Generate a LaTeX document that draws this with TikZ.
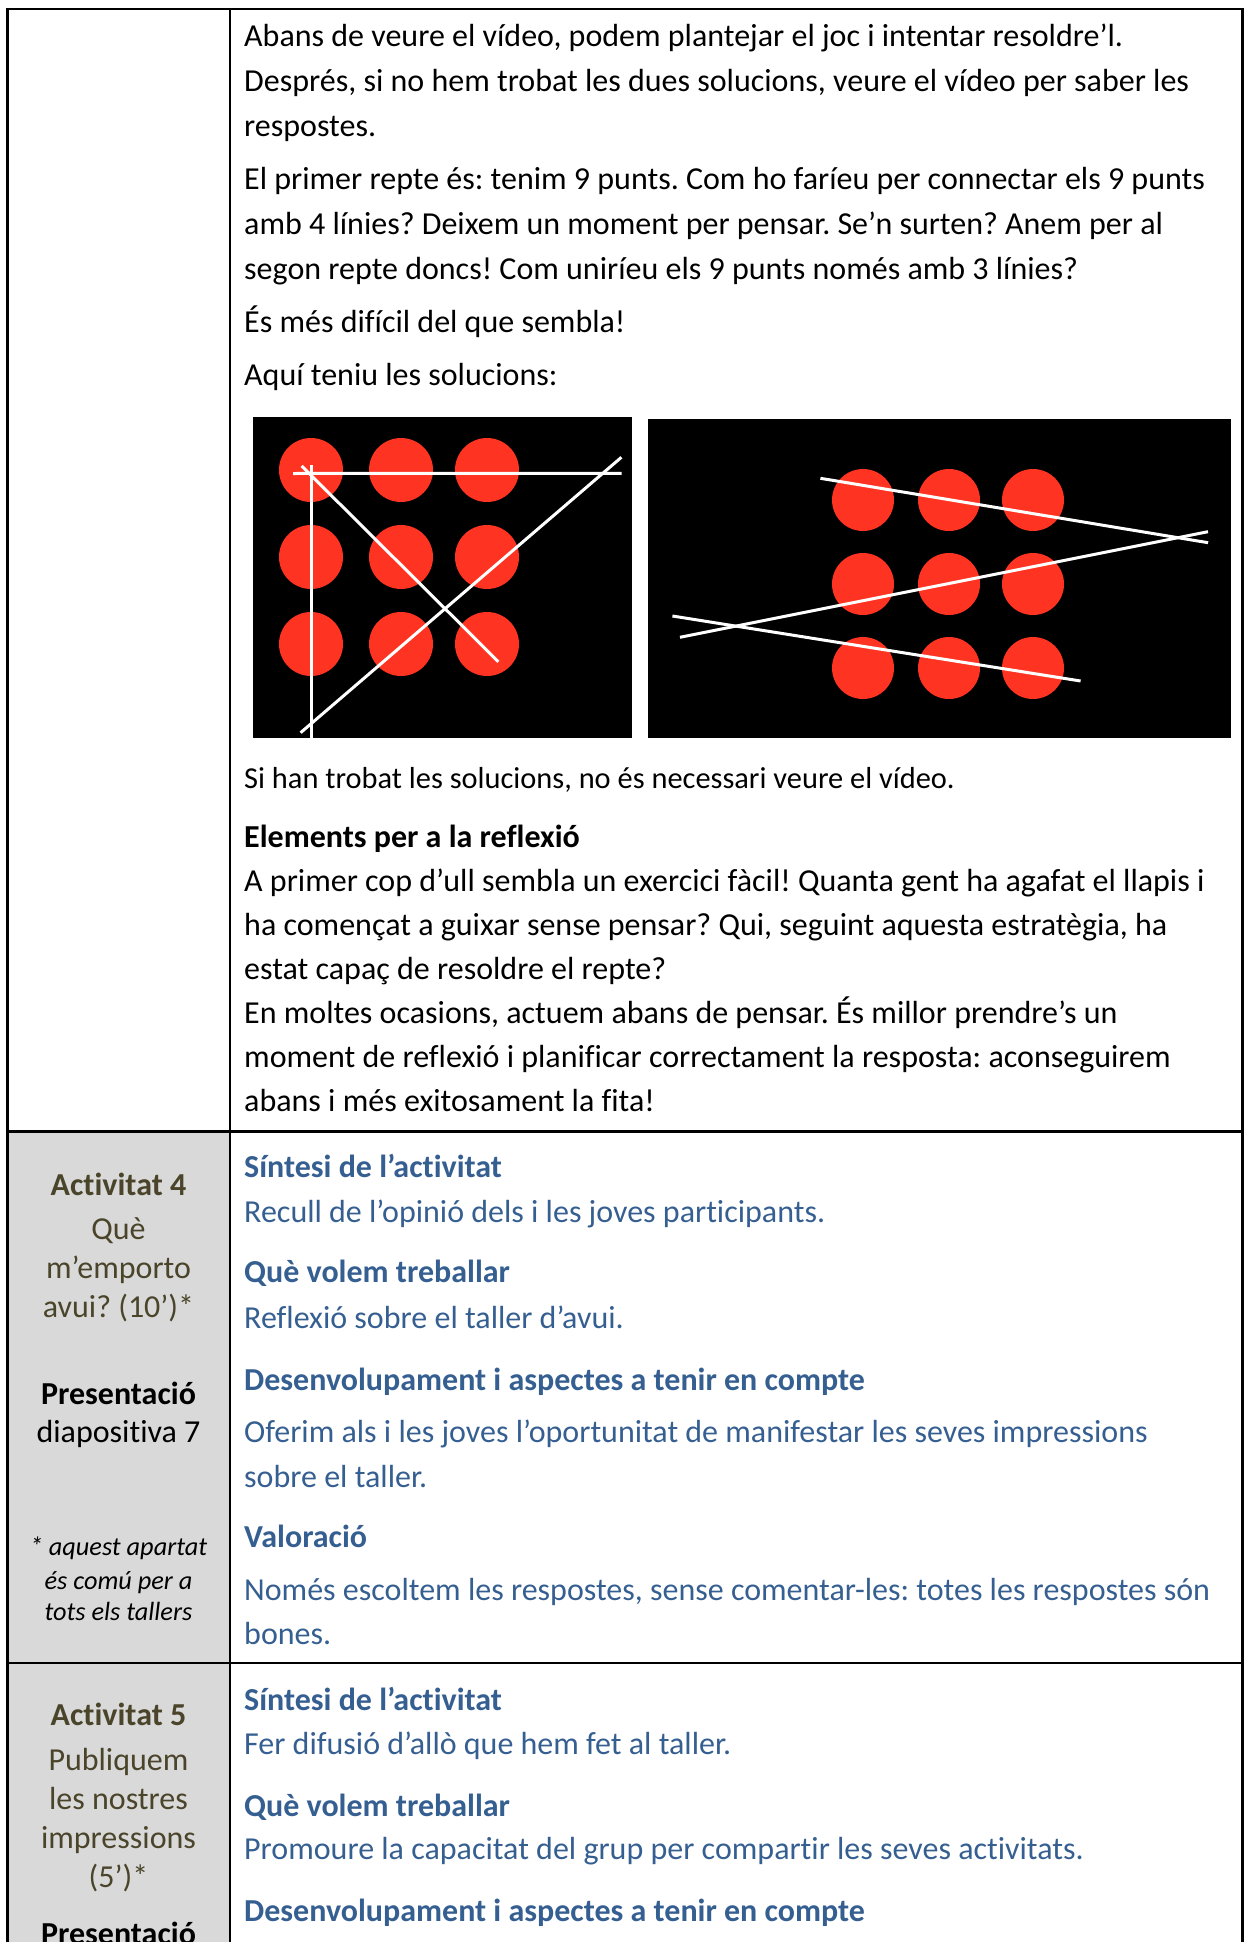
\documentclass[tikz,border=0pt]{standalone}
\usepackage{fontspec}
\setmainfont{Carlito}[Ligatures=NoCommon]
\frenchspacing
\definecolor{blu}{HTML}{365F91}
\definecolor{oli}{HTML}{4A452A}
\definecolor{cellgray}{HTML}{D9D9D9}
\definecolor{dotred}{HTML}{FF3322}
\begin{document}
\begin{tikzpicture}[x=1pt,y=-1pt,
  body/.style={anchor=base west, inner sep=0pt, font=\fontsize{32}{45}\selectfont},
  smallbody/.style={anchor=base west, inner sep=0pt, font=\fontsize{30.4}{36}\selectfont},
  head/.style={body, font=\fontsize{32}{45}\selectfont\bfseries},
  bluebody/.style={body, text=blu},
  bluehead/.style={head, text=blu},
  leftc/.style={anchor=base, inner sep=0pt, font=\fontsize{32}{39}\selectfont, text=oli},
  lefth/.style={leftc, font=\fontsize{32}{39}\selectfont\bfseries},
  leftk/.style={anchor=base, inner sep=0pt, font=\fontsize{32}{39}\selectfont, text=black},
  leftkb/.style={leftk, font=\fontsize{32}{39}\selectfont\bfseries},
  note/.style={anchor=base, inner sep=0pt, font=\fontsize{26.3}{33}\selectfont\itshape, text=black},
  border/.style={line width=2.4pt, black, line cap=rect},
  thin/.style={line width=1.5pt, black},
  chalk/.style={white, line width=3pt}
]
\useasboundingbox (0,0) rectangle (1247,1942);
\clip (0,0) rectangle (1247,1942);
% gray left cells
\fill[cellgray] (8,1132) rectangle (230,1942);
% pictures
\fill[black] (252.7,417) rectangle (631.5,738);
\fill[black] (648,419) rectangle (1230.5,738);
\foreach \x in {311,401,487} \foreach \y in {470,557,644} \fill[dotred] (\x,\y) circle[radius=32pt];
\foreach \x in {863,949,1033} \foreach \y in {500,584,668} \fill[dotred] (\x,\y) circle[radius=31pt];
\coordinate (a1) at (293,473.5); \coordinate (a2) at (621.5,473.3);
\coordinate (b1) at (311,465); \coordinate (b2) at (311,738);
\coordinate (c1) at (301.7,466); \coordinate (c2) at (498.3,661.7);
\coordinate (d1) at (621.4,457.3); \coordinate (d2) at (300.6,732.7);
\draw[chalk] (a1) -- (a2);
\draw[chalk] (b1) -- (b2);
\draw[chalk] (c1) -- (c2);
\draw[chalk] (d1) -- (d2);
\coordinate (e1) at (820.4,478.3); \coordinate (e2) at (1208.1,542.7);
\coordinate (f1) at (680,637.3); \coordinate (f2) at (1208,531.7);
\coordinate (g1) at (672.4,616); \coordinate (g2) at (1080.6,681);
\draw[chalk] (e1) -- (e2);
\draw[chalk] (f1) -- (f2);
\draw[chalk] (g1) -- (g2);
% table rules
\draw[border] (7.3,9.3) -- (1242.5,9.3);
\draw[border] (7.3,9.3) -- (7.3,1942);
\draw[border] (1242.5,9.3) -- (1242.5,1942);
\draw[thin] (230,9.3) -- (230,1942);
\draw[border] (7.3,1131.5) -- (1242.5,1131.5);
\draw[border] (7.3,1663) -- (1242.5,1663);
% row 1
\node[body] (r1a) at (244,47) {Abans de veure el vídeo, podem plantejar el joc i intentar resoldre’l.};
\node[body] (r1b) at (244,92) {Després, si no hem trobat les dues solucions, veure el vídeo per saber les};
\node[body] (r1c) at (244,137) {respostes.};
\node[body] (r1d) at (244,190) {El primer repte és: tenim 9 punts. Com ho faríeu per connectar els 9 punts};
\node[body] (r1e) at (244,235) {amb 4 línies? Deixem un moment per pensar. Se’n surten? Anem per al};
\node[body] (r1f) at (244,280) {segon repte doncs! Com uniríeu els 9 punts només amb 3 línies?};
\node[body] (r1g) at (244,332) {És més difícil del que sembla!};
\node[body] (r1h) at (244,385) {Aquí teniu les solucions:};
\node[smallbody] (r1i) at (244,788) {Si han trobat les solucions, no és necessari veure el vídeo.};
\node[head] (r1j) at (244,847) {Elements per a la reflexió};
\node[body] (r1k) at (244,891) {A primer cop d’ull sembla un exercici fàcil! Quanta gent ha agafat el llapis i};
\node[body] (r1l) at (244,935) {ha començat a guixar sense pensar? Qui, seguint aquesta estratègia, ha};
\node[body] (r1m) at (244,979) {estat capaç de resoldre el repte?};
\node[body] (r1n) at (244,1023) {En moltes ocasions, actuem abans de pensar. És millor prendre’s un};
\node[body] (r1o) at (244,1067) {moment de reflexió i planificar correctament la resposta: aconseguirem};
\node[body] (r1p) at (244,1111) {abans i més exitosament la fita!};
% row 2 right
\node[bluehead] (r2a) at (244,1177) {Síntesi de l’activitat};
\node[bluebody] (r2b) at (244,1222) {Recull de l’opinió dels i les joves participants.};
\node[bluehead] (r2c) at (244,1282) {Què volem treballar};
\node[bluebody] (r2d) at (244,1328) {Reflexió sobre el taller d’avui.};
\node[bluehead] (r2e) at (244,1390) {Desenvolupament i aspectes a tenir en compte};
\node[bluebody] (r2f) at (244,1442) {Oferim als i les joves l’oportunitat de manifestar les seves impressions};
\node[bluebody] (r2g) at (244,1487) {sobre el taller.};
\node[bluehead] (r2h) at (244,1547) {Valoració};
\node[bluebody] (r2i) at (244,1600) {Només escoltem les respostes, sense comentar-les: totes les respostes són};
\node[bluebody] (r2j) at (244,1644) {bones.};
% row 2 left
\node[lefth] (l2a) at (118.5,1195) {Activitat 4};
\node[leftc] (l2b) at (118.5,1239) {Què};
\node[leftc] (l2c) at (118.5,1278) {m’emporto};
\node[leftc] (l2d) at (118.5,1317) {avui? (10’)*};
\node[leftkb] (l2e) at (118.5,1404) {Presentació};
\node[leftk] (l2f) at (118.5,1442) {diapositiva 7};
\node[note] (l2g) at (118.5,1555) {* aquest apartat};
\node[note] (l2h) at (118.5,1589) {és comú per a};
\node[note] (l2i) at (118.5,1620) {tots els tallers};
% row 3 right
\node[bluehead] (r3a) at (244,1710) {Síntesi de l’activitat};
\node[bluebody] (r3b) at (244,1754) {Fer difusió d’allò que hem fet al taller.};
\node[bluehead] (r3c) at (244,1816) {Què volem treballar};
\node[bluebody] (r3d) at (244,1859) {Promoure la capacitat del grup per compartir les seves activitats.};
\node[bluehead] (r3e) at (244,1921) {Desenvolupament i aspectes a tenir en compte};
% row 3 left
\node[lefth] (l3a) at (118.5,1725) {Activitat 5};
\node[leftc] (l3b) at (118.5,1770) {Publiquem};
\node[leftc] (l3c) at (118.5,1809) {les nostres};
\node[leftc] (l3d) at (118.5,1848) {impressions};
\node[leftc] (l3e) at (118.5,1887) {(5’)*};
\node[leftkb] (l3f) at (118.5,1944) {Presentació};
\end{tikzpicture}
\end{document}
